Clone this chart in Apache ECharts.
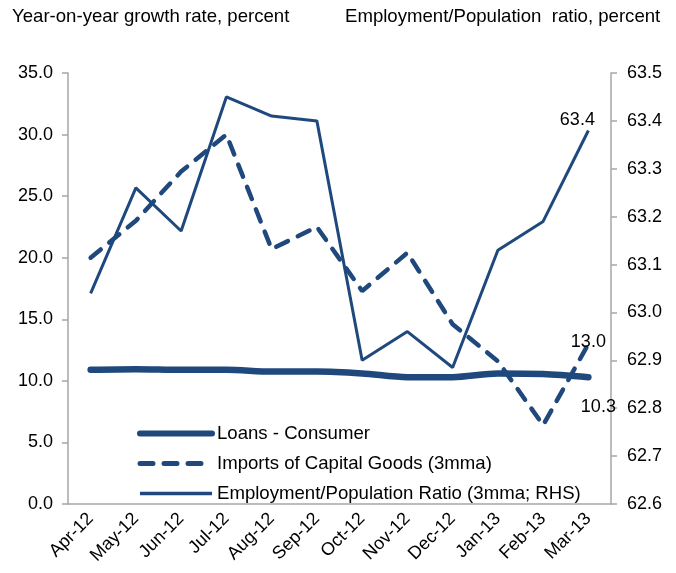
<!DOCTYPE html>
<html lang="en">
  <head>
    <meta charset="utf-8" />
    <title>Consumer loans, capital goods imports and employment</title>
    <script src="https://cdn.jsdelivr.net/npm/echarts@6/dist/echarts.min.js"></script>
    <style>
      html, body { margin: 0; padding: 0; background: #fff; }
      #main { width: 676px; height: 573px; }
    </style>
  </head>
  <body>
    <div id="main"></div>
    <script>
      var months = ["Apr-12", "May-12", "Jun-12", "Jul-12", "Aug-12", "Sep-12",
                    "Oct-12", "Nov-12", "Dec-12", "Jan-13", "Feb-13", "Mar-13"];
      // left axis, y/y growth %
      var loansConsumer = [10.9, 10.95, 10.9, 10.9, 10.75, 10.75, 10.6, 10.3, 10.3, 10.6, 10.55, 10.3];
      var importsCapGoods = [20.0, 23.0, 27.0, 30.0, 20.7, 22.5, 17.3, 20.4, 14.6, 11.6, 6.4, 13.0];
      // right axis, employment / population ratio %
      var empPopRatio = [63.04, 63.26, 63.17, 63.45, 63.41, 63.40, 62.90, 62.96, 62.885, 63.13, 63.19, 63.38];

      var blue = "#1f497d";
      var axisGrey = "#a6a6a6";
      var font = "Liberation Sans, Arial, sans-serif";
      var fs = 18;
      var fsText = 18.6; // titles + legend run a bit wider

      var myChart = echarts.init(document.getElementById("main"));

      function fmt1(p) { return Number(p.value).toFixed(1); }
      function endLbl(off) {
        return { show: true, align: "center", verticalAlign: "middle", distance: 0,
                 offset: off, fontSize: fs, color: "#000", formatter: fmt1 };
      }

      var option = {
        animation: false,
        textStyle: { fontFamily: font },
        grid: { left: 68, right: 65, top: 73, bottom: 69 },
        graphic: [
          { type: "text", left: 12, top: 7,
            style: { text: "Year-on-year growth rate, percent", font: fsText + "px " + font, fill: "#000" } },
          { type: "text", left: 345, top: 7,
            style: { text: "Employment/Population  ratio, percent", font: fsText + "px " + font, fill: "#000" } }
        ],
        legend: {
          orient: "vertical",
          left: 132,
          top: 419,
          itemWidth: 72,
          itemHeight: 14,
          itemGap: 11,
          itemStyle: { opacity: 0 },
          textStyle: { fontSize: fsText, color: "#000", fontFamily: font },
          data: [
            { name: "Loans - Consumer", lineStyle: { width: 6 } },
            { name: "Imports of Capital Goods (3mma)", lineStyle: { width: 5 } },
            { name: "Employment/Population Ratio (3mma; RHS)", lineStyle: { width: 3.5 } }
          ]
        },
        xAxis: {
          type: "category",
          data: months,
          axisLine: { lineStyle: { color: axisGrey, width: 1.5 } },
          axisTick: { lineStyle: { color: axisGrey, width: 1.5 }, length: 6 },
          axisLabel: { rotate: 45, fontSize: fs, color: "#000", margin: 12 }
        },
        yAxis: [
          {
            type: "value", min: 0, max: 35, interval: 5,
            splitLine: { show: false },
            axisLine: { show: true, lineStyle: { color: axisGrey, width: 1.5 } },
            axisTick: { show: true, lineStyle: { color: axisGrey, width: 1.5 }, length: 6 },
            axisLabel: { fontSize: fs, color: "#000", margin: 15,
              formatter: function (v) { return v.toFixed(1); } }
          },
          {
            type: "value", min: 62.6, max: 63.5, interval: 0.1,
            splitLine: { show: false },
            axisLine: { show: true, lineStyle: { color: axisGrey, width: 1.5 } },
            axisTick: { show: true, lineStyle: { color: axisGrey, width: 1.5 }, length: 6 },
            axisLabel: { fontSize: fs, color: "#000", margin: 16,
              formatter: function (v) { return v.toFixed(1); } }
          }
        ],
        series: [
          {
            name: "Loans - Consumer",
            type: "line",
            yAxisIndex: 0,
            symbol: "none",
            smooth: 0.3,
            lineStyle: { color: blue, width: 6.5, cap: "round" },
            itemStyle: { color: blue },
            endLabel: endLbl([10, 30]),
            data: loansConsumer,
            z: 3
          },
          {
            name: "Imports of Capital Goods (3mma)",
            type: "line",
            yAxisIndex: 0,
            symbol: "none",
            lineStyle: { color: blue, width: 4.5, type: [13, 11], cap: "round" },
            itemStyle: { color: blue },
            endLabel: endLbl([0, -2]),
            data: importsCapGoods,
            z: 2
          },
          {
            name: "Employment/Population Ratio (3mma; RHS)",
            type: "line",
            yAxisIndex: 1,
            symbol: "none",
            lineStyle: { color: blue, width: 3 },
            itemStyle: { color: blue },
            endLabel: endLbl([-11, -10]),
            data: empPopRatio,
            z: 2
          }
        ]
      };

      myChart.setOption(option);
    </script>
  </body>
</html>
